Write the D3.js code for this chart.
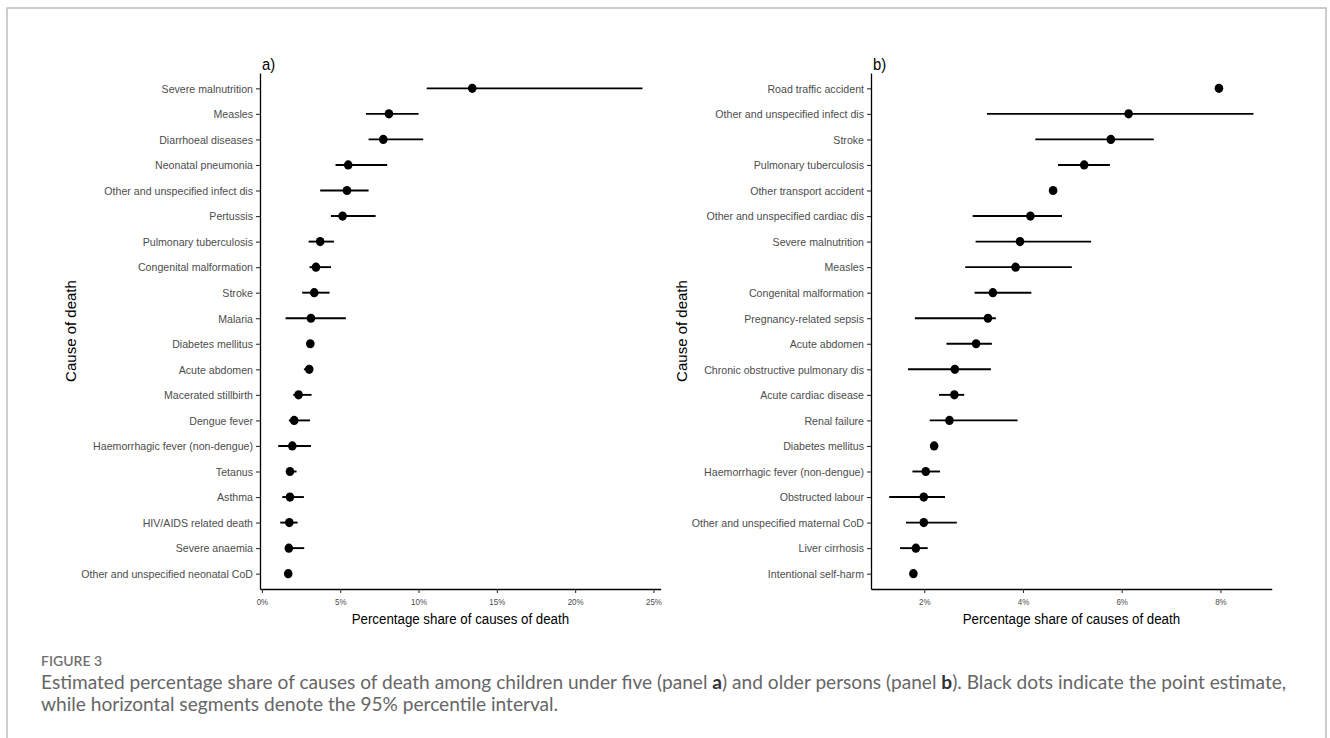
<!DOCTYPE html>
<html>
<head>
<meta charset="utf-8">
<script src="https://cdn.jsdelivr.net/npm/d3@7"></script>
<style>
  html, body { margin: 0; padding: 0; background: #fff; }
  svg { display: block; }
</style>
</head>
<body>
<svg id="chart" width="1330" height="738"></svg>
<script>
// ---------- Panel a: children under five ----------
const causesA = [
  "Severe malnutrition", "Measles", "Diarrhoeal diseases", "Neonatal pneumonia",
  "Other and unspecified infect dis", "Pertussis", "Pulmonary tuberculosis",
  "Congenital malformation", "Stroke", "Malaria", "Diabetes mellitus", "Acute abdomen",
  "Macerated stillbirth", "Dengue fever", "Haemorrhagic fever (non-dengue)", "Tetanus",
  "Asthma", "HIV/AIDS related death", "Severe anaemia", "Other and unspecified neonatal CoD"
];
const pointA = [13.43, 8.11, 7.75, 5.51, 5.43, 5.15, 3.72, 3.45, 3.34, 3.13, 3.09, 3.02, 2.34, 2.06, 1.94, 1.79, 1.79, 1.75, 1.72, 1.68];
const lowerA = [10.52, 6.64, 6.81, 4.70, 3.72, 4.41, 2.98, 3.04, 2.57, 1.51, 2.98, 2.68, 2.00, 1.72, 1.04, 1.62, 1.30, 1.17, 1.58, 1.60];
const upperA = [24.30, 10.00, 10.30, 8.00, 6.81, 7.26, 4.60, 4.41, 4.32, 5.36, 3.20, 3.17, 3.17, 3.07, 3.13, 2.21, 2.68, 2.28, 2.70, 1.76];
const ticksA = [0, 5, 10, 15, 20, 25];

// ---------- Panel b: older persons ----------
const causesB = [
  "Road traffic accident", "Other and unspecified infect dis", "Stroke", "Pulmonary tuberculosis",
  "Other transport accident", "Other and unspecified cardiac dis", "Severe malnutrition", "Measles",
  "Congenital malformation", "Pregnancy-related sepsis", "Acute abdomen",
  "Chronic obstructive pulmonary dis", "Acute cardiac disease", "Renal failure", "Diabetes mellitus",
  "Haemorrhagic fever (non-dengue)", "Obstructed labour", "Other and unspecified maternal CoD",
  "Liver cirrhosis", "Intentional self-harm"
];
const pointB = [7.97, 6.14, 5.78, 5.24, 4.61, 4.15, 3.94, 3.85, 3.39, 3.29, 3.05, 2.62, 2.61, 2.51, 2.20, 2.03, 1.99, 1.99, 1.83, 1.78];
const lowerB = [7.92, 3.27, 4.25, 4.71, 4.57, 2.98, 3.04, 2.83, 3.02, 1.81, 2.45, 1.67, 2.30, 2.11, 2.16, 1.76, 1.29, 1.63, 1.51, 1.75];
const upperB = [8.02, 8.67, 6.65, 5.76, 4.66, 4.79, 5.38, 4.99, 4.17, 3.45, 3.37, 3.35, 2.81, 3.89, 2.24, 2.32, 2.42, 2.66, 2.07, 1.82];
const ticksB = [2, 4, 6, 8];

const panelTitles = ["a)", "b)"];
const yTitle = "Cause of death";
const xTitle = "Percentage share of causes of death";

const svg = d3.select("#chart");
const SX = 0.9; // horizontal squeeze of the original figure's text

// outer frame
svg.append("rect")
  .attr("x", 7).attr("y", 8).attr("width", 1319).attr("height", 760)
  .attr("fill", "none").attr("stroke", "#bdbdbd").attr("stroke-width", 1.5);

function panel(cfg) {
  const { causes, point, lower, upper, ticks, left, right, top, bottom, title, yTitleX } = cfg;
  const lo = d3.min(lower), hi = d3.max(upper), span = hi - lo;
  const x = d3.scaleLinear().domain([lo - 0.05 * span, hi + 0.05 * span]).range([left, right]);
  const y = d3.scalePoint().domain(causes).range([top, bottom]).padding(0.6);

  const g = svg.append("g");

  // y axis
  const ya = g.append("g").attr("transform", `translate(${left},0)`)
    .call(d3.axisLeft(y).tickSize(4).tickSizeOuter(0).tickPadding(3));
  ya.select(".domain").attr("stroke", "#000").attr("stroke-width", 1.3);
  ya.selectAll(".tick line").attr("stroke", "#333").attr("stroke-width", 1.1);
  ya.selectAll(".tick text")
    .attr("x", -7 / SX)
    .attr("transform", `scale(${SX},1)`)
    .attr("fill", "#4d4d4d")
    .style("font-family", "'Liberation Sans', Arial, sans-serif")
    .style("font-size", "11.8px");

  // x axis
  const xa = g.append("g").attr("transform", `translate(0,${bottom})`)
    .call(d3.axisBottom(x).tickValues(ticks).tickFormat(d => d + "%")
      .tickSize(4).tickSizeOuter(0).tickPadding(5));
  xa.select(".domain").attr("stroke", "#000").attr("stroke-width", 1.3);
  xa.selectAll(".tick line").attr("stroke", "#333").attr("stroke-width", 1.1);
  xa.selectAll(".tick text")
    .attr("transform", `scale(0.85,1)`)
    .attr("fill", "#4d4d4d")
    .style("font-family", "'Liberation Sans', Arial, sans-serif")
    .style("font-size", "9.4px");

  // intervals
  g.append("g").selectAll("line").data(causes).join("line")
    .attr("x1", (d, i) => x(lower[i])).attr("x2", (d, i) => x(upper[i]))
    .attr("y1", d => y(d)).attr("y2", d => y(d))
    .attr("stroke", "#000").attr("stroke-width", 1.9);

  // points
  g.append("g").selectAll("ellipse").data(causes).join("ellipse")
    .attr("cx", (d, i) => x(point[i])).attr("cy", d => y(d))
    .attr("rx", 4.3).attr("ry", 4.6)
    .attr("fill", "#000");

  // panel title
  g.append("text")
    .attr("transform", `translate(${left + 2},${top - 3}) scale(${SX},1)`)
    .style("font-family", "'Liberation Sans', Arial, sans-serif")
    .style("font-size", "16.5px").attr("fill", "#000")
    .text(title);

  // x title
  g.append("text")
    .attr("transform", `translate(${(left + right) / 2},${bottom + 35}) scale(${SX},1)`)
    .attr("text-anchor", "middle")
    .style("font-family", "'Liberation Sans', Arial, sans-serif")
    .style("font-size", "14.8px").attr("fill", "#000")
    .text(xTitle);

  // y title
  g.append("text")
    .attr("transform", `translate(${yTitleX},${(top + bottom) / 2}) rotate(-90)`)
    .attr("text-anchor", "middle")
    .style("font-family", "'Liberation Sans', Arial, sans-serif")
    .style("font-size", "15px").attr("fill", "#000")
    .text(yTitle);
}

panel({ causes: causesA, point: pointA, lower: lowerA, upper: upperA, ticks: ticksA,
  left: 260, right: 660.7, top: 73, bottom: 589, title: panelTitles[0], yTitleX: 76 });
panel({ causes: causesB, point: pointB, lower: lowerB, upper: upperB, ticks: ticksB,
  left: 871, right: 1271.7, top: 73, bottom: 589, title: panelTitles[1], yTitleX: 687 });

// ---------- caption ----------
const capFont = "Lato, 'Open Sans', sans-serif";
svg.append("text")
  .attr("x", 41).attr("y", 666)
  .style("font-family", capFont).style("font-size", "14px").style("font-weight", 600)
  .attr("fill", "#707070").text("FIGURE 3");

const line1 = [
  ["Estimated percentage share of causes of death among children under five (panel ", false],
  ["a", true],
  [") and older persons (panel ", false],
  ["b", true],
  ["). Black dots indicate the point estimate,", false]
];
const line2 = [["while horizontal segments denote the 95% percentile interval.", false]];

function capLine(parts, yPos, fs) {
  const t = svg.append("text").attr("x", 41).attr("y", yPos)
    .style("font-family", capFont).style("font-size", fs + "px").attr("fill", "#666");
  parts.forEach(([s, b]) => {
    t.append("tspan").text(s)
      .style("font-weight", b ? 700 : 400)
      .attr("fill", b ? "#333" : "#666");
  });
  return t;
}
// fit first caption line to the original's width
let fs = 17;
const probe = capLine(line1, 689, fs);
const w = probe.node().getComputedTextLength();
fs = fs * 1246 / w;
probe.style("font-size", fs + "px");
capLine(line2, 711, fs);
</script>
</body>
</html>
